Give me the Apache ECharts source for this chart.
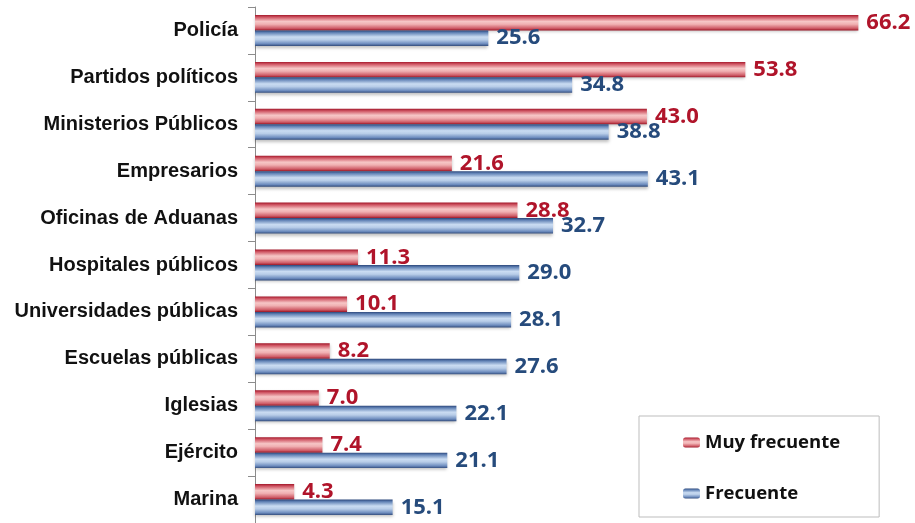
<!DOCTYPE html>
<html>
<head>
<meta charset="utf-8">
<script src="https://cdn.jsdelivr.net/npm/echarts@6/dist/echarts.min.js"></script>
<style>
  html, body { margin: 0; padding: 0; background: #fff; }
  #chart { width: 915px; height: 523px; }
</style>
</head>
<body>
<div id="chart"></div>
<script>
// Institutions, listed top to bottom
var categories = [
  'Policía', 'Partidos políticos', 'Ministerios Públicos', 'Empresarios',
  'Oficinas de Aduanas', 'Hospitales públicos', 'Universidades públicas',
  'Escuelas públicas', 'Iglesias', 'Ejército', 'Marina'
];
// Percentages per response
var muyFrecuente = [66.2, 53.8, 43.0, 21.6, 28.8, 11.3, 10.1, 8.2, 7.0, 7.4, 4.3];
var frecuente    = [25.6, 34.8, 38.8, 43.1, 32.7, 29.0, 28.1, 27.6, 22.1, 21.1, 15.1];
var seriesNames  = ['Muy frecuente', 'Frecuente'];

function tube(stops) {
  return new echarts.graphic.LinearGradient(0, 0, 0, 1, stops.map(function (s) {
    return { offset: s[0], color: s[1] };
  }));
}
var redFill = tube([[0, '#a3182a'], [0.14, '#cf5563'], [0.42, '#f6c6c6'], [0.6, '#f0b0b2'], [0.86, '#cf5d68'], [1, '#9c1626']]);
var blueFill = tube([[0, '#2a467a'], [0.14, '#6283b6'], [0.42, '#cadcf2'], [0.6, '#b8cde8'], [0.86, '#6d8cbe'], [1, '#324c7c']]);

var chart = echarts.init(document.getElementById('chart'), null, { renderer: 'canvas' });

function valueLabel(color) {
  return {
    show: true,
    position: 'right',
    distance: 8,
    color: color,
    fontFamily: 'Open Sans',
    fontWeight: 'bold',
    fontSize: 22,
    formatter: function (p) { return p.value.toFixed(1); }
  };
}

chart.setOption({
  animation: false,
  backgroundColor: '#ffffff',
  grid: { left: 255, top: 7, width: 638, height: 517 },
  xAxis: { type: 'value', min: 0, max: 70, show: false },
  yAxis: {
    type: 'category',
    data: categories,
    inverse: true,
    axisLine: { show: true, lineStyle: { color: '#8c8c8c', width: 1 } },
    axisTick: { show: true, length: 7, lineStyle: { color: '#8c8c8c' } },
    axisLabel: {
      margin: 17,
      color: '#111',
      fontFamily: 'Liberation Sans',
      fontWeight: 'bold',
      fontSize: 20,
      padding: [5, 0, 0, 0]
    }
  },
  legend: {
    orient: 'vertical',
    left: 639,
    top: 416,
    padding: [17, 39, 14, 44],
    itemGap: 32,
    itemWidth: 17,
    itemHeight: 10,
    itemStyle: { shadowBlur: 0 },
    backgroundColor: '#fff',
    borderColor: '#bdbdbd',
    borderWidth: 1,
    textStyle: { fontFamily: 'Open Sans', fontWeight: 'bold', fontSize: 18.5, color: '#111' },
    data: seriesNames
  },
  series: [
    {
      name: seriesNames[0],
      type: 'bar',
      data: muyFrecuente,
      barGap: '0%',
      barCategoryGap: '34%',
      itemStyle: { color: redFill, shadowColor: 'rgba(0,0,0,0.25)', shadowBlur: 3, shadowOffsetY: 2 },
      label: valueLabel('#b0142a')
    },
    {
      name: seriesNames[1],
      type: 'bar',
      data: frecuente,
      barGap: '0%',
      barCategoryGap: '34%',
      itemStyle: { color: blueFill, shadowColor: 'rgba(0,0,0,0.25)', shadowBlur: 3, shadowOffsetY: 2 },
      label: valueLabel('#264b7c')
    }
  ]
});
</script>
</body>
</html>
